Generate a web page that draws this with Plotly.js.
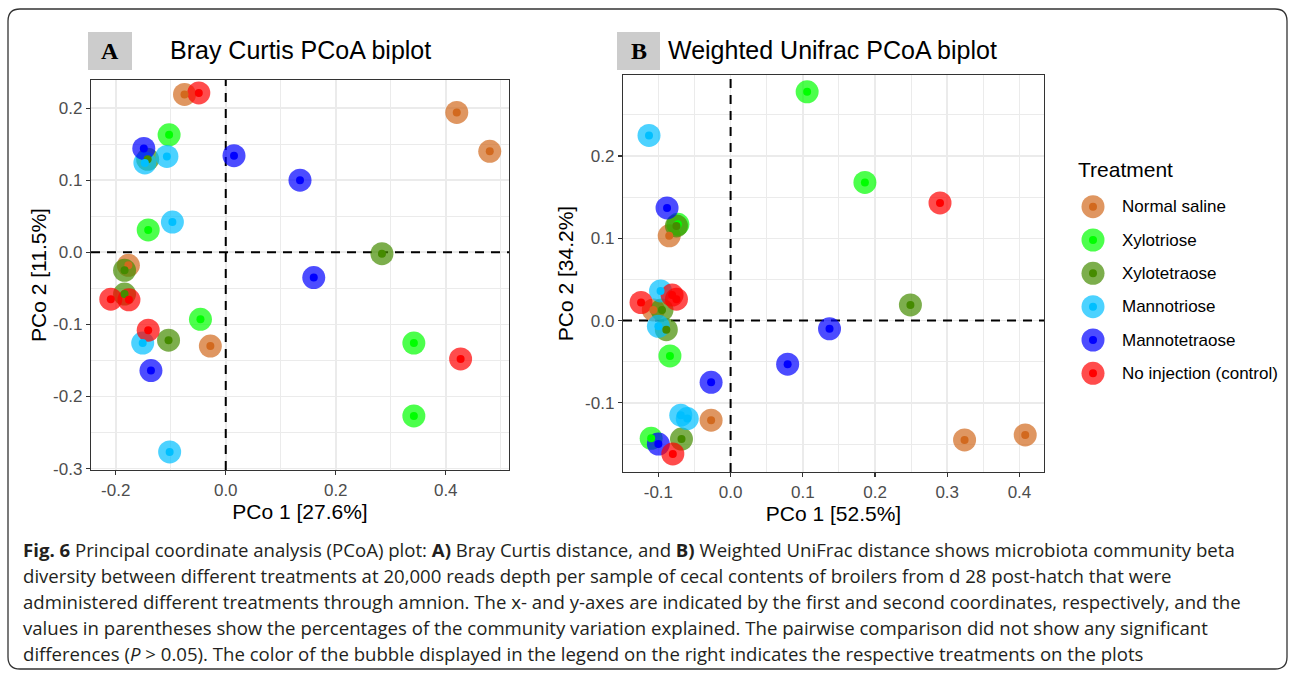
<!DOCTYPE html>
<html>
<head>
<meta charset="utf-8">
<script src="https://cdn.plot.ly/plotly-3.0.1.min.js"></script>
<style>
html,body{margin:0;padding:0;background:#fff;}
#chart{width:1295px;height:674px;}
</style>
</head>
<body>
<div id="chart"></div>
<script>
// ---------- DATA ----------
const categories = ['Normal saline','Xylotriose','Xylotetraose','Mannotriose','Mannotetraose','No injection (control)'];
const colors = ['#D2691E','#00FF00','#458B00','#00BFFF','#0000FF','#FF0000'];

// Panel A: Bray Curtis
const bcNormalX = [-0.075, 0.420, 0.480, -0.177, -0.028];
const bcNormalY = [0.219, 0.194, 0.140, -0.018, -0.130];
const bcXyloTriX = [-0.103, -0.141, -0.046, 0.342, 0.342];
const bcXyloTriY = [0.163, 0.031, -0.093, -0.126, -0.227];
const bcXyloTetX = [-0.142, -0.184, -0.184, -0.104, 0.284];
const bcXyloTetY = [0.129, -0.025, -0.058, -0.122, -0.002];
const bcMannTriX = [-0.147, -0.107, -0.097, -0.151, -0.102];
const bcMannTriY = [0.124, 0.133, 0.042, -0.126, -0.277];
const bcMannTetX = [-0.149, 0.015, 0.135, 0.160, -0.136];
const bcMannTetY = [0.144, 0.134, 0.100, -0.035, -0.164];
const bcControlX = [-0.049, -0.209, -0.176, -0.141, 0.427];
const bcControlY = [0.221, -0.065, -0.066, -0.108, -0.148];

// Panel B: Weighted Unifrac
const wuNormalX = [-0.085, -0.107, -0.027, 0.324, 0.408];
const wuNormalY = [0.103, 0.013, -0.121, -0.145, -0.139];
const wuXyloTriX = [0.106, 0.186, -0.073, -0.084, -0.110];
const wuXyloTriY = [0.278, 0.168, 0.117, -0.043, -0.143];
const wuXyloTetX = [-0.075, -0.095, -0.089, -0.068, 0.249];
const wuXyloTetY = [0.115, 0.013, -0.011, -0.144, 0.019];
const wuMannTriX = [-0.113, -0.097, -0.100, -0.069, -0.060];
const wuMannTriY = [0.225, 0.036, -0.007, -0.115, -0.119];
const wuMannTetX = [-0.088, -0.027, 0.079, 0.137, -0.100];
const wuMannTetY = [0.137, -0.075, -0.053, -0.010, -0.150];
const wuControlX = [0.290, -0.124, -0.081, -0.075, -0.080];
const wuControlY = [0.143, 0.022, 0.031, 0.026, -0.162];

// Tick values
const aXTicks = [-0.2, 0.0, 0.2, 0.4];
const aYTicks = [-0.3, -0.2, -0.1, 0.0, 0.1, 0.2];
const bXTicks = [-0.1, 0.0, 0.1, 0.2, 0.3, 0.4];
const bYTicks = [-0.1, 0.0, 0.1, 0.2];

const panelTitles = ['Bray Curtis PCoA biplot', 'Weighted Unifrac PCoA biplot'];
const panelLetters = ['A', 'B'];
const xTitles = ['PCo 1 [27.6%]', 'PCo 1 [52.5%]'];
const yTitles = ['PCo 2 [11.5%]', 'PCo 2 [34.2%]'];
const legendTitle = 'Treatment';
const captionLines = [
  '<b>Fig. 6</b> Principal coordinate analysis (PCoA) plot: <b>A)</b> Bray Curtis distance, and <b>B)</b> Weighted UniFrac distance shows microbiota community beta',
  'diversity between different treatments at 20,000 reads depth per sample of cecal contents of broilers from d 28 post-hatch that were',
  'administered different treatments through amnion. The x- and y-axes are indicated by the first and second coordinates, respectively, and the',
  'values in parentheses show the percentages of the community variation explained. The pairwise comparison did not show any significant',
  'differences (<i>P</i> &gt; 0.05). The color of the bubble displayed in the legend on the right indicates the respective treatments on the plots'
];

// ---------- BUILD ----------
const W = 1295, H = 674;
const fx = p => p / W;
const fy = p => 1 - p / H;

const aXRange = [-0.245, 0.515], aYRange = [-0.302, 0.239];
const bXRange = [-0.149, 0.434], bYRange = [-0.184, 0.2985];

const bc = [[bcNormalX,bcNormalY],[bcXyloTriX,bcXyloTriY],[bcXyloTetX,bcXyloTetY],[bcMannTriX,bcMannTriY],[bcMannTetX,bcMannTetY],[bcControlX,bcControlY]];
const wu = [[wuNormalX,wuNormalY],[wuXyloTriX,wuXyloTriY],[wuXyloTetX,wuXyloTetY],[wuMannTriX,wuMannTriY],[wuMannTetX,wuMannTetY],[wuControlX,wuControlY]];

const traces = [];
const OUTER = 23, INNER = 8;
const dashLine = {color:'#000', width:2, dash:'9px,7px'};
[[bc,'x','y',aXRange,aYRange],[wu,'x2','y2',bXRange,bYRange]].forEach(([set, xa, ya, xr, yr]) => {
  // dashed reference lines at 0 (under the bubbles, above the grid)
  traces.push({type:'scatter', mode:'lines', x:[0,0], y:yr, xaxis:xa, yaxis:ya, line:dashLine, showlegend:false, hoverinfo:'skip'});
  traces.push({type:'scatter', mode:'lines', x:xr, y:[0,0], xaxis:xa, yaxis:ya, line:dashLine, showlegend:false, hoverinfo:'skip'});
  set.forEach((g, i) => traces.push({type:'scatter', mode:'markers', x:g[0], y:g[1], xaxis:xa, yaxis:ya,
    marker:{size:OUTER, color:colors[i], opacity:0.7, line:{width:0}}, showlegend:false, hoverinfo:'skip'}));
  set.forEach((g, i) => traces.push({type:'scatter', mode:'markers', x:g[0], y:g[1], xaxis:xa, yaxis:ya,
    marker:{size:INNER, color:colors[i], line:{width:0}}, showlegend:false, hoverinfo:'skip'}));
});
// legend (drawn as a small categorical scatter)
const zeros = categories.map(() => 0);
traces.push({type:'scatter', mode:'markers', x:zeros, y:categories, xaxis:'x3', yaxis:'y3',
  marker:{size:OUTER, color:colors, opacity:0.7, line:{width:0}}, showlegend:false, hoverinfo:'skip'});
traces.push({type:'scatter', mode:'markers', x:zeros, y:categories, xaxis:'x3', yaxis:'y3',
  marker:{size:INNER, color:colors, line:{width:0}}, showlegend:false, hoverinfo:'skip'});

const FONT = 'Liberation Sans, Arial, sans-serif';
function axis(domain, range, ticks, minor, anchor, title, standoff) {
  return {
    domain, range, anchor,
    tickmode:'array', tickvals:ticks, ticktext:ticks.map(v => v.toFixed(1)),
    ticks:'outside', ticklen:4, tickwidth:1.2, tickcolor:'#333',
    tickfont:{family:FONT, size:17, color:'#4d4d4d'},
    showgrid:true, gridcolor:'#ebebeb', gridwidth:1.6,
    minor:{dtick:minor, showgrid:true, gridcolor:'#ebebeb', gridwidth:1, ticks:''},
    showline:true, mirror:true, linecolor:'#333', linewidth:1.2,
    zeroline:false, fixedrange:true,
    title:{text:title, font:{family:FONT, size:21, color:'#000'}, standoff}
  };
}

const layout = {
  width:W, height:H,
  margin:{l:0, r:0, t:0, b:0},
  paper_bgcolor:'#fff', plot_bgcolor:'#fff',
  showlegend:false,
  xaxis: axis([fx(91), fx(509)], aXRange, aXTicks, 0.1, 'y', xTitles[0], 1),
  yaxis: axis([fy(470), fy(80)], aYRange, aYTicks, 0.05, 'x', yTitles[0], 0),
  xaxis2: axis([fx(623), fx(1044)], bXRange, bXTicks, 0.05, 'y2', xTitles[1], 1),
  yaxis2: axis([fy(472), fy(75)], bYRange, bYTicks, 0.05, 'x2', yTitles[1], 5),
  xaxis3: {domain:[fx(1068), fx(1118)], range:[-1,1], visible:false, anchor:'y3', fixedrange:true},
  yaxis3: {domain:[fy(390), fy(190)], type:'category', categoryarray:categories, categoryorder:'array',
           range:[5.5,-0.5], visible:false, anchor:'x3', fixedrange:true},
  shapes: [],
  annotations: []
};

// outer rounded frame
(function(){
  const l=8, t=9, r=1287, b=669, rad=12;
  const P = (x,y) => fx(x) + ',' + fy(y);
  const path = 'M' + P(l+rad,t) + ' L' + P(r-rad,t) + ' Q' + P(r,t) + ' ' + P(r,t+rad) +
    ' L' + P(r,b-rad) + ' Q' + P(r,b) + ' ' + P(r-rad,b) +
    ' L' + P(l+rad,b) + ' Q' + P(l,b) + ' ' + P(l,b-rad) +
    ' L' + P(l,t+rad) + ' Q' + P(l,t) + ' ' + P(l+rad,t) + ' Z';
  layout.shapes.push({type:'path', xref:'paper', yref:'paper', path, line:{color:'#333', width:1.3}, layer:'below'});
})();

// panel letter boxes + titles
const boxes = [[88,32,132,70],[617,32,660,70]];
const titleX = [168, 666];
boxes.forEach((bx, i) => {
  layout.shapes.push({type:'rect', xref:'paper', yref:'paper', x0:fx(bx[0]), x1:fx(bx[2]), y0:fy(bx[3]), y1:fy(bx[1]),
    fillcolor:'#cccccc', line:{width:0}, layer:'below'});
  layout.annotations.push({xref:'paper', yref:'paper', x:fx((bx[0]+bx[2])/2), y:fy((bx[1]+bx[3])/2),
    text:'<b>' + panelLetters[i] + '</b>', showarrow:false, xanchor:'center', yanchor:'middle',
    font:{family:'Liberation Serif, DejaVu Serif, serif', size:24, color:'#000'}});
  layout.annotations.push({xref:'paper', yref:'paper', x:fx(titleX[i]), y:fy(50),
    text:panelTitles[i], showarrow:false, xanchor:'left', yanchor:'middle',
    font:{family:FONT, size:25, color:'#000'}});
});

// legend title and labels
layout.annotations.push({xref:'paper', yref:'paper', x:fx(1076), y:fy(170), text:legendTitle, showarrow:false,
  xanchor:'left', yanchor:'middle', font:{family:FONT, size:21, color:'#000'}});
categories.forEach(c => layout.annotations.push({xref:'x3', yref:'y3', x:0, y:c, xshift:27, text:c, showarrow:false,
  xanchor:'left', yanchor:'middle', font:{family:FONT, size:17, color:'#000'}}));

// caption
const capY = [549, 575, 601, 627, 653];
captionLines.forEach((t, i) => layout.annotations.push({xref:'paper', yref:'paper', x:fx(21), y:fy(capY[i]),
  text:t, showarrow:false, xanchor:'left', yanchor:'middle', align:'left',
  font:{family:'Open Sans, Noto Sans, sans-serif', size:18.6, color:'#231f20'}}));

Plotly.newPlot('chart', traces, layout, {staticPlot:true, displayModeBar:false});
</script>
</body>
</html>
